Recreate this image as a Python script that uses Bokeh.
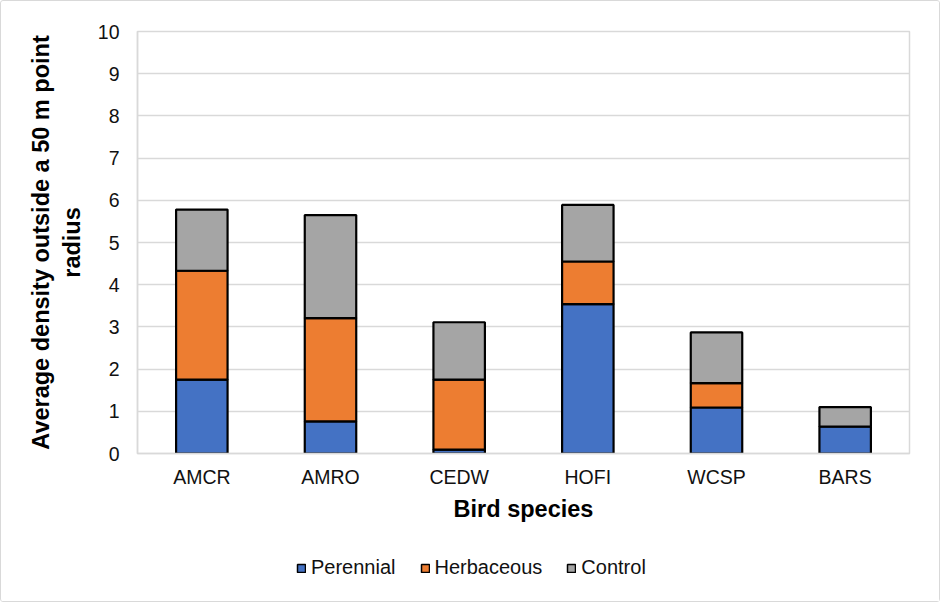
from bokeh.plotting import figure
from bokeh.models import Legend, LegendItem, FixedTicker
from bokeh.layouts import column
from bokeh.embed import file_html
from bokeh.resources import INLINE

species = ["AMCR", "AMRO", "CEDW", "HOFI", "WCSP", "BARS"]
perennial = [1.75, 0.76, 0.09, 3.54, 1.09, 0.64]
herbaceous = [2.58, 2.45, 1.66, 1.01, 0.58, 0.0]
control = [1.45, 2.44, 1.36, 1.34, 1.20, 0.46]
series = ["Perennial", "Herbaceous", "Control"]
colors = ["#4472C4", "#ED7D31", "#A5A5A5"]
y_ticks = list(range(0, 11))

data = dict(species=species, Perennial=perennial, Herbaceous=herbaceous, Control=control)

FONT = "Liberation Sans"
TOTAL_W = 938

p = figure(x_range=species, y_range=(0, 10), frame_width=772, frame_height=422,
           output_backend="svg", toolbar_location=None,
           min_border_left=136, min_border_right=30, min_border_top=30, min_border_bottom=80)

r = p.vbar_stack(series, x="species", width=0.4, source=data, color=colors,
                 line_color="black", line_width=2.2)

p.outline_line_color = "#d9d9d9"
p.outline_line_width = 1.5
p.xgrid.grid_line_color = None
p.ygrid.grid_line_color = "#d9d9d9"
p.ygrid.grid_line_width = 1.5
p.yaxis.ticker = FixedTicker(ticks=y_ticks)

for ax in (p.xaxis, p.yaxis):
    ax.axis_line_color = "#d9d9d9"
    ax.axis_line_width = 1.5
    ax.major_tick_line_color = None
    ax.minor_tick_line_color = None
    ax.major_label_text_font = FONT
    ax.major_label_text_font_size = "19.5px"
    ax.major_label_text_color = "#111111"
    ax.axis_label_text_font = FONT
    ax.axis_label_text_font_size = "23.5px"
    ax.axis_label_text_font_style = "bold"
    ax.axis_label_text_color = "black"

p.xaxis.axis_label = "Bird species"
p.xaxis.major_label_standoff = 6
p.xaxis.axis_label_standoff = 5
p.yaxis.axis_label = "Average density outside a 50 m point\nradius"
p.yaxis.major_label_standoff = 12
p.yaxis.axis_label_standoff = 10

# legend strip (separate figure so that the legend is not clipped by the frame)
lg = figure(width=TOTAL_W, height=68, x_range=(0, 1), y_range=(0, 1),
            output_backend="svg", toolbar_location=None, min_border=0)
lg.axis.visible = False
lg.grid.grid_line_color = None
lg.outline_line_color = None
legend_src = dict(x=[float("nan")], bottom=[float("nan")], top=[float("nan")])
dummies = [lg.vbar(x="x", bottom="bottom", top="top", source=legend_src, width=0.1,
                   fill_color=c, line_color="black", line_width=1.5)
           for c in colors]
legend = Legend(items=[LegendItem(label=s, renderers=[d]) for s, d in zip(series, dummies)],
                orientation="horizontal", location=(159, 22),
                label_text_font=FONT, label_text_font_size="20px", label_text_color="#111111",
                glyph_width=10, glyph_height=10, spacing=24, label_standoff=5,
                border_line_color=None, background_fill_alpha=0, margin=0, padding=2)
lg.add_layout(legend, "center")

layout = column(p, lg, spacing=0,
                styles={"border": "1px solid #d9d9d9", "border-radius": "3px"})

open("out.html", "w").write(file_html(layout, INLINE))
